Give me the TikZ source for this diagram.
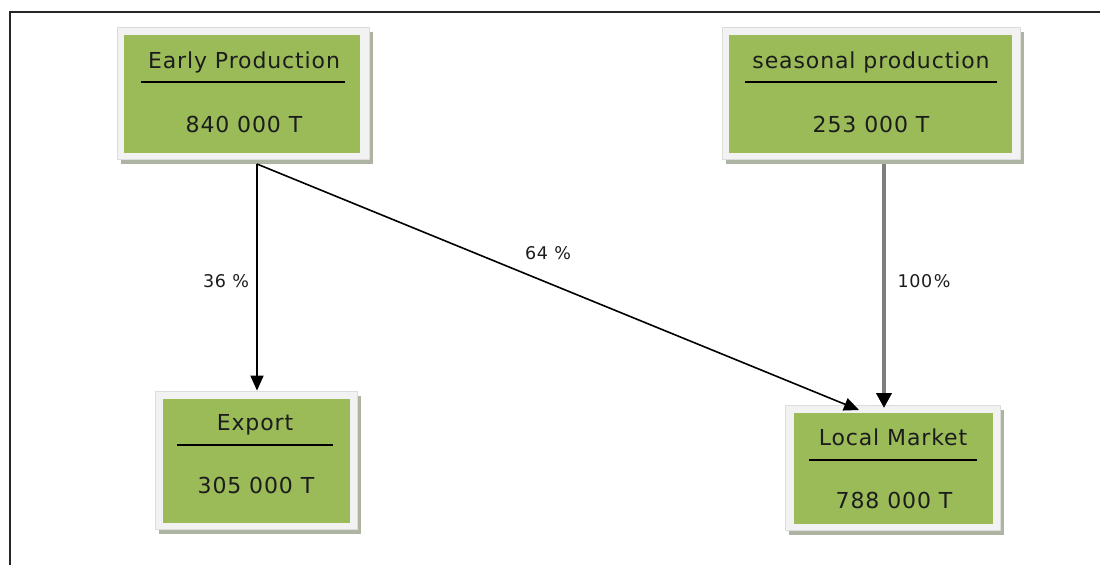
\documentclass[tikz,border=0pt]{standalone}
\usepackage{fontspec}
\setmainfont{DejaVu Sans}[LetterSpace=4]
\usetikzlibrary{arrows.meta,shadows}
\definecolor{boxgreen}{HTML}{9BBB59}
\definecolor{framefill}{HTML}{F2F2F2}
\definecolor{framebd}{HTML}{DCDCDC}
\definecolor{shadowc}{HTML}{AEB4A2}
\definecolor{txt}{HTML}{1C1C1C}
\definecolor{thickgrey}{HTML}{7F7F7F}
\begin{document}
\begin{tikzpicture}[x=1pt,y=-1pt,
  frame/.style={draw=framebd, fill=framefill, line width=0.8pt, inner sep=0pt,
    drop shadow={shadow xshift=4pt, shadow yshift=-5pt, fill=shadowc, opacity=1}},
  greenbox/.style={fill=boxgreen, inner sep=0pt},
  title/.style={anchor=base, inner sep=0pt, text=txt, font=\fontsize{22}{26}\selectfont},
  rulel/.style={line width=1.4pt, black},
  arr/.style={line width=1.6pt, black, -{Triangle[length=15pt,width=13pt]}},
  thickarr/.style={line width=4.5pt, thickgrey, -{Triangle[length=15pt,width=15pt,color=black]}},
  lbl/.style={inner sep=0pt, text=txt, font=\fontsize{17.5}{21}\selectfont},
  border/.style={line width=2pt, draw=black!85}]
\useasboundingbox (0,0) rectangle (1100,565);
\draw[border] (1100,12) -- (10,12) -- (10,565);

% Early Production
\node[frame, minimum width=252pt, minimum height=132pt] (ep) at (243,93) {};
\node[greenbox, minimum width=236pt, minimum height=118pt] (epg) at (242,94) {};
\node[title] (ept) at (244,68) {Early Production};
\draw[rulel] (141,82) -- (345,82);
\node[title] (epv) at (244,132) {840 000 T};

% seasonal production
\node[frame, minimum width=298pt, minimum height=132pt] (sp) at (871,93) {};
\node[greenbox, minimum width=283pt, minimum height=118pt] (spg) at (870.5,94) {};
\node[title] (spt) at (871,68) {seasonal production};
\draw[rulel] (745,82) -- (997,82);
\node[title] (spv) at (871,132) {253 000 T};

% Export
\node[frame, minimum width=202pt, minimum height=138pt] (ex) at (256,460) {};
\node[greenbox, minimum width=187pt, minimum height=124pt] (exg) at (256.5,461) {};
\node[title] (ext) at (255,430) {Export};
\draw[rulel] (177,445) -- (333,445);
\node[title] (exv) at (256,493) {305 000 T};

% Local Market
\node[frame, minimum width=215pt, minimum height=125pt] (lm) at (892.5,467.5) {};
\node[greenbox, minimum width=199pt, minimum height=111pt] (lmg) at (893.5,468.5) {};
\node[title] (lmt) at (893,445) {Local Market};
\draw[rulel] (809,460) -- (977,460);
\node[title] (lmv) at (894,508) {788 000 T};

% connector ends
\coordinate (epo) at (257,164);
\coordinate (spo) at (884,164);
\coordinate (lmin1) at (859,410);
\coordinate (lmin2) at (884,408);

\draw[arr] (epo) -- (epo |- ex.north);
\draw[arr] (epo) -- (lmin1);
\draw[thickarr] (spo) -- (lmin2);

\node[lbl] (l36) at (226,281) {36 \%};
\node[lbl] (l64) at (548,253) {64 \%};
\node[lbl] (l100) at (924,281) {100\kern1.5pt\%};
\end{tikzpicture}
\end{document}
